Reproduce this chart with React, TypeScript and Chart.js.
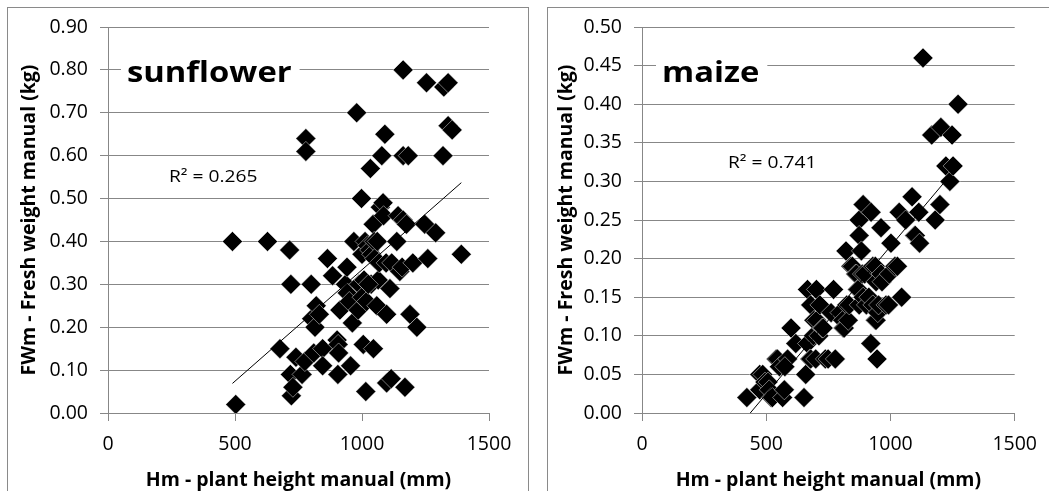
import React, { useEffect, useRef } from 'react';
import { Chart, registerables } from 'chart.js';

Chart.register(...registerables);

// ---------- DATA ----------
const xAxisTicks = [0, 500, 1000, 1500];
const xAxisTitle = 'Hm - plant height manual (mm)';
const yAxisTitle = 'FWm - Fresh weight manual (kg)';

// Sunflower: plant height (mm) and fresh weight (kg)
const sunflowerHm = [
  490, 503, 628, 677, 715, 718, 720, 722, 728, 740, 764, 775, 779, 779, 800, 802, 810, 815, 820, 832,
  845, 845, 864, 884, 902, 906, 908, 905, 913, 935, 941, 942, 950, 955, 962, 968, 979, 985, 988, 998,
  1000, 1000, 1005, 1008, 1012, 1015, 1018, 1022, 1030, 1033, 1036, 1038, 1044, 1045, 1048, 1050, 1058, 1060, 1064, 1068,
  1072, 1078, 1083, 1085, 1090, 1095, 1097, 1097, 1110, 1115, 1117, 1137, 1142, 1149, 1158, 1162, 1162, 1162, 1169, 1175,
  1182, 1189, 1200, 1216, 1247, 1254, 1259, 1290, 1319, 1322, 1339, 1339, 1355, 1391, 1025,
];
const sunflowerFWm = [
  0.40, 0.02, 0.40, 0.15, 0.38, 0.09, 0.30, 0.04, 0.06, 0.13, 0.09, 0.12, 0.64, 0.61, 0.30, 0.22, 0.14, 0.20, 0.25, 0.23,
  0.15, 0.11, 0.36, 0.32, 0.17, 0.16, 0.14, 0.09, 0.24, 0.30, 0.34, 0.28, 0.26, 0.11, 0.21, 0.40, 0.70, 0.24, 0.30, 0.50,
  0.27, 0.37, 0.16, 0.31, 0.40, 0.05, 0.26, 0.39, 0.38, 0.57, 0.30, 0.37, 0.44, 0.15, 0.40, 0.36, 0.25, 0.40, 0.31, 0.35,
  0.48, 0.60, 0.49, 0.46, 0.65, 0.35, 0.23, 0.07, 0.29, 0.08, 0.35, 0.40, 0.46, 0.33, 0.34, 0.80, 0.45, 0.60, 0.06, 0.44,
  0.60, 0.23, 0.35, 0.20, 0.44, 0.77, 0.36, 0.42, 0.60, 0.76, 0.77, 0.67, 0.66, 0.37, 0.30,
];
const sunflowerTrendHm = [490, 1391];
const sunflowerTrendFWm = [0.069, 0.537];
const sunflowerR2 = 'R² = 0.265';

// Maize: plant height (mm) and fresh weight (kg)
const maizeHm = [
  422, 474, 474, 486, 495, 507, 512, 520, 525, 540, 545, 553, 566, 573, 586, 575,
  600, 619, 652, 659, 666, 666, 676, 679, 679, 690, 692, 699, 702, 703, 712, 716, 725, 729, 738, 749, 761, 771, 778,
  797, 808, 810, 814, 821, 824, 830, 834, 841, 847, 860, 863, 867, 870, 874, 874, 874, 883, 887, 890, 890, 896, 903, 913, 921, 922,
  929, 929, 939, 939, 942, 942, 946, 949, 952, 962, 962, 966, 982, 992, 995, 1002, 1018, 1028, 1035, 1045, 1061, 1087, 1097, 1100, 1114,
  1117, 1131, 1166, 1180, 1199, 1203, 1223, 1239, 1248, 1252, 1272,
];
const maizeFWm = [
  0.02, 0.05, 0.03, 0.05, 0.04, 0.04, 0.03, 0.02, 0.02, 0.07, 0.07, 0.06, 0.02, 0.03, 0.07, 0.06,
  0.11, 0.09, 0.02, 0.05, 0.16, 0.09, 0.07, 0.14, 0.07, 0.10, 0.12, 0.07, 0.16, 0.12, 0.10, 0.14, 0.11, 0.11, 0.07, 0.07, 0.13, 0.16, 0.07,
  0.13, 0.12, 0.11, 0.11, 0.21, 0.14, 0.12, 0.14, 0.19, 0.19, 0.18, 0.18, 0.16, 0.16, 0.25, 0.23, 0.14, 0.21, 0.18, 0.27, 0.15, 0.18, 0.14, 0.15, 0.09, 0.26,
  0.19, 0.14, 0.19, 0.12, 0.17, 0.12, 0.07, 0.13, 0.14, 0.24, 0.18, 0.17, 0.14, 0.14, 0.18, 0.22, 0.19, 0.19, 0.26, 0.15, 0.25, 0.28, 0.23, 0.23, 0.26,
  0.22, 0.46, 0.36, 0.25, 0.27, 0.37, 0.32, 0.30, 0.36, 0.32, 0.40,
];
const maizeTrendHm = [420, 1272];
const maizeTrendFWm = [-0.006, 0.32];
const maizeR2 = 'R² = 0.741';

// ---------- STYLE ----------
const FONT = '"Open Sans", "Liberation Sans", sans-serif';
const GRID = '#878787';
const TEXT_SX = 1.13;

type PanelProps = {
  name: string;
  r2: string;
  xs: number[];
  ys: number[];
  tx: number[];
  ty: number[];
  yMax: number;
  yStep: number;
  width: number;
  left: number;
  yAxisWidth: number;
  padRight: number;
  titlePad: number;
  namePos: [number, number];
  r2Pos: [number, number];
};

function Panel(p: PanelProps) {
  const ref = useRef<HTMLCanvasElement | null>(null);
  useEffect(() => {
    if (!ref.current) return;
    const textPlugin = {
      id: 'panelText',
      afterDraw(chart: any) {
        const { ctx, chartArea } = chart;
        ctx.save();
        ctx.font = `bold 29px ${FONT}`;
        const w = ctx.measureText(p.name).width * TEXT_SX;
        const nx = chartArea.left + p.namePos[0];
        const ny = chartArea.top + p.namePos[1];
        ctx.fillStyle = '#fff';
        ctx.fillRect(nx - 6, ny - 26, w + 14, 33);
        ctx.fillStyle = '#000';
        ctx.textBaseline = 'alphabetic';
        ctx.translate(nx, ny);
        ctx.scale(TEXT_SX, 1);
        ctx.fillText(p.name, 0, 0);
        ctx.restore();
        ctx.save();
        ctx.font = `17px ${FONT}`;
        ctx.fillStyle = '#000';
        ctx.textBaseline = 'middle';
        ctx.translate(chartArea.left + p.r2Pos[0], chartArea.top + p.r2Pos[1]);
        ctx.scale(TEXT_SX, 1);
        ctx.fillText(p.r2, 0, 0);
        ctx.restore();
      },
    };
    const chart = new Chart(ref.current, {
      type: 'scatter',
      data: {
        datasets: [
          {
            type: 'line',
            data: p.tx.map((x, i) => ({ x, y: p.ty[i] })),
            borderColor: '#000',
            borderWidth: 1,
            pointRadius: 0,
            fill: false,
          } as any,
          {
            data: p.xs.map((x, i) => ({ x, y: p.ys[i] })),
            pointStyle: 'rectRot',
            pointRadius: 10,
            pointHoverRadius: 10,
            backgroundColor: '#000',
            borderColor: 'rgba(255,255,255,0.9)',
            borderWidth: 0.5,
          },
        ],
      },
      options: {
        animation: false,
        responsive: false,
        events: [],
        layout: { padding: { left: 0, top: 27, right: p.padRight, bottom: 0 } },
        plugins: { legend: { display: false }, tooltip: { enabled: false } },
        scales: {
          x: {
            type: 'linear',
            min: xAxisTicks[0],
            max: xAxisTicks[xAxisTicks.length - 1],
            afterBuildTicks: (s: any) => {
              s.ticks = xAxisTicks.map((v) => ({ value: v }));
            },
            ticks: {
              color: '#000',
              font: { family: FONT, size: 19.5 },
              padding: 12,
              maxRotation: 0,
              callback: (v: any) => String(v),
            },
            grid: { drawOnChartArea: false, drawTicks: true, tickLength: 8, color: GRID },
            border: { color: GRID },
            title: {
              display: true,
              text: xAxisTitle,
              color: '#000',
              font: { family: FONT, size: 19.5, weight: 'bold' },
              padding: { top: 0, bottom: -1 },
            },
            afterFit: (s: any) => {
              s.height = 78;
            },
          },
          y: {
            type: 'linear',
            min: 0,
            max: p.yMax,
            ticks: {
              stepSize: p.yStep,
              color: '#000',
              font: { family: FONT, size: 19.5 },
              padding: 12,
              callback: (v: any) => Number(v).toFixed(2),
            },
            grid: { color: GRID, tickLength: 8 },
            border: { color: GRID },
            title: {
              display: true,
              text: yAxisTitle,
              color: '#000',
              font: { family: FONT, size: 19.5, weight: 'bold' },
              padding: { top: p.titlePad, bottom: 0 },
            },
            afterFit: (s: any) => {
              s.width = p.yAxisWidth;
            },
          },
        },
      } as any,
      plugins: [textPlugin],
    });
    return () => chart.destroy();
  }, []);
  return (
    <canvas
      ref={ref}
      width={p.width}
      height={491}
      style={{ position: 'absolute', left: p.left, top: 0, width: p.width, height: 491 }}
    />
  );
}

export default function App() {
  return (
    <div
      style={{
        position: 'fixed',
        left: 0,
        top: 0,
        width: 1049,
        height: 491,
        background: '#fff',
        overflow: 'hidden',
      }}
    >
      <div
        style={{
          position: 'absolute',
          left: 7,
          top: 7,
          width: 522,
          height: 520,
          border: '1px solid #8a8a8a',
          boxSizing: 'border-box',
        }}
      />
      <div
        style={{
          position: 'absolute',
          left: 547,
          top: 7,
          width: 540,
          height: 520,
          border: '1px solid #8a8a8a',
          boxSizing: 'border-box',
        }}
      />
      <Panel
        name="sunflower"
        r2={sunflowerR2}
        xs={sunflowerHm}
        ys={sunflowerFWm}
        tx={sunflowerTrendHm}
        ty={sunflowerTrendFWm}
        yMax={0.9}
        yStep={0.1}
        width={530}
        left={0}
        yAxisWidth={108}
        padRight={41}
        titlePad={18}
        namePos={[19, 55]}
        r2Pos={[61, 150]}
      />
      <Panel
        name="maize"
        r2={maizeR2}
        xs={maizeHm}
        ys={maizeFWm}
        tx={maizeTrendHm}
        ty={maizeTrendFWm}
        yMax={0.5}
        yStep={0.05}
        width={519}
        left={530}
        yAxisWidth={112}
        padRight={27}
        titlePad={25}
        namePos={[20, 55]}
        r2Pos={[86, 136]}
      />
    </div>
  );
}
